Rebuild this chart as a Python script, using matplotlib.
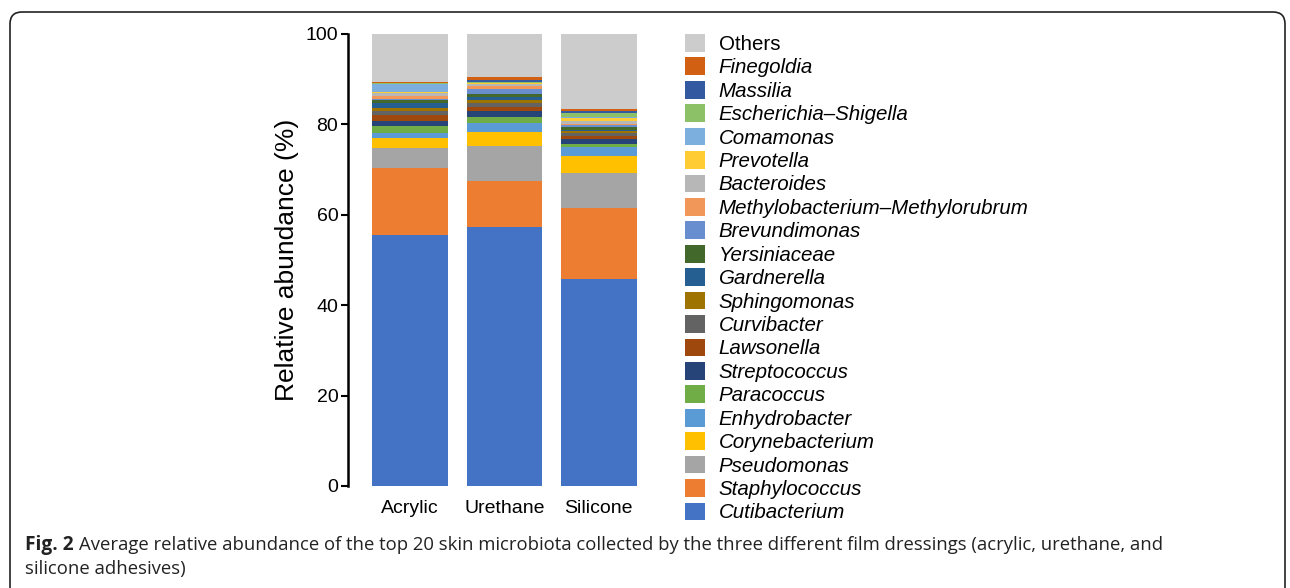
import matplotlib
matplotlib.use("Agg")
import matplotlib.pyplot as plt
from matplotlib.patches import FancyBboxPatch, Patch
from matplotlib.transforms import IdentityTransform
import numpy as np

plt.rcParams['font.family'] = ['Liberation Sans', 'DejaVu Sans']

groups = ["Acrylic", "Urethane", "Silicone"]

# bottom -> top stacking order
taxa = ["Cutibacterium", "Staphylococcus", "Pseudomonas", "Corynebacterium",
        "Enhydrobacter", "Paracoccus", "Streptococcus", "Lawsonella",
        "Curvibacter", "Sphingomonas", "Gardnerella", "Yersiniaceae",
        "Brevundimonas", "Methylobacterium\u2013Methylorubrum", "Bacteroides",
        "Prevotella", "Comamonas", "Escherichia\u2013Shigella", "Massilia",
        "Finegoldia"]

acrylic = [55.5, 14.8, 4.4, 2.2, 1.3, 1.55, 0.9, 1.35, 0.95, 0.6, 1.2, 0.62,
           0.3, 0.6, 0.74, 0.22, 1.7, 0.15, 0.15, 0.22]
urethane = [57.3, 10.2, 7.74, 3.1, 2.0, 1.33, 1.33, 0.85, 0.9, 0.75, 0.62, 0.66,
            0.96, 0.82, 0.3, 0.22, 0.1, 0.15, 0.44, 0.62]
silicone = [45.8, 15.7, 7.74, 3.83, 1.9, 0.74, 1.03, 0.74, 0.6, 0.37, 0.3, 0.74,
            0.3, 0.3, 0.66, 0.74, 0.1, 0.88, 0.6, 0.37]

colors = ["#4472C4", "#ED7D31", "#A5A5A5", "#FFC000", "#5B9BD5", "#70AD47",
          "#264478", "#9E480E", "#636363", "#9E7300", "#255E91", "#43682B",
          "#698ED0", "#F1975A", "#B7B7B7", "#FFCD33", "#7CAFDD", "#8CC168",
          "#335AA1", "#D26012"]
others_color = "#CCCCCC"

data = np.array([acrylic, urethane, silicone])  # groups x taxa
others = 100 - data.sum(axis=1)

W, H = 1290, 588
fig = plt.figure(figsize=(W / 100, H / 100), dpi=100)
ax = fig.add_axes([348 / W, 102 / H, 298 / W, 452 / H])

x = np.arange(len(groups))
bottom = np.zeros(len(groups))
for i, t in enumerate(taxa):
    ax.bar(x, data[:, i], 0.8, bottom=bottom, color=colors[i], linewidth=0)
    bottom += data[:, i]
ax.bar(x, others, 0.8, bottom=bottom, color=others_color, linewidth=0)

ax.set_xlim(-0.656, 2.5)
ax.set_ylim(0, 100)
ax.set_yticks([0, 20, 40, 60, 80, 100])
ax.set_xticks(x)
ax.set_xticklabels(groups, fontsize=14)
ax.tick_params(axis='x', length=0, pad=10, labelsize=14)
ax.tick_params(axis='y', length=5, width=1.5, pad=2, labelsize=14)
for s in ['top', 'right', 'bottom']:
    ax.spines[s].set_visible(False)
ax.spines['left'].set_linewidth(1.8)
ax.set_ylabel("Relative abundance (%)", fontsize=19, labelpad=5)

# legend (top -> bottom: Others, Finegoldia, ..., Cutibacterium)
labels = ["Others"] + taxa[::-1]
cols = [others_color] + colors[::-1]
handles = [Patch(facecolor=c, edgecolor='none') for c in cols]
leg = fig.legend(handles, labels, loc='upper left',
                 bbox_to_anchor=(685 / W, 1 - 34 / H), frameon=False,
                 fontsize=14.8, handlelength=0.95, handleheight=0.95,
                 handletextpad=0.68, labelspacing=0.17, borderpad=0,
                 borderaxespad=0)
for i, txt in enumerate(leg.get_texts()):
    if i > 0:
        txt.set_fontstyle('italic')

# border box
box = FancyBboxPatch((10, -30), 1275, 576 + 30, boxstyle="round,pad=0,rounding_size=12",
                     transform=IdentityTransform(), facecolor='none',
                     edgecolor='#222222', linewidth=1.2)
fig.patches.append(box)

# caption
renderer = fig.canvas.get_renderer()
cap_font = ['Open Sans', 'DejaVu Sans']
t1 = fig.text(25 / W, 1 - 545 / H, "Fig. 2", fontsize=13.8, fontweight='bold',
              family=cap_font, va='center', ha='left', color='#222222')
bb = t1.get_window_extent(renderer)
fig.text((bb.x1 + 5) / W, 1 - 545 / H,
         "Average relative abundance of the top 20 skin microbiota collected by the three different film dressings (acrylic, urethane, and",
         fontsize=13.3, family=cap_font, va='center', ha='left', color='#222222')
fig.text(25 / W, 1 - 569 / H, "silicone adhesives)", fontsize=13.3,
         family=cap_font, va='center', ha='left', color='#222222')

fig.savefig("out.png", dpi=100)
